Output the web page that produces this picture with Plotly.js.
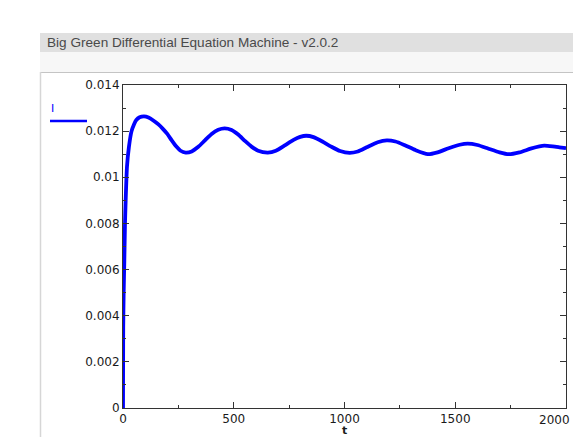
<!DOCTYPE html>
<html>
<head>
<meta charset="utf-8">
<script src="https://cdn.plot.ly/plotly-3.0.1.min.js"></script>
<style>
html,body{margin:0;padding:0;background:#fff;}
#plot{width:573px;height:437px;}
</style>
</head>
<body>
<div id="plot"></div>
<script>
// ---- data ----
var seriesName = "I";
var tValues = [0, 0.5, 1, 3, 6, 9, 12, 18, 27, 38, 50, 60, 75, 95, 115, 140, 160, 180, 200, 220, 241, 260, 283, 310, 340, 370, 400, 430, 459, 490, 520, 550, 580, 610, 654, 690, 730, 770, 800, 827, 860, 900, 940, 980, 1023, 1060, 1100, 1150, 1191, 1230, 1270, 1320, 1376, 1420, 1470, 1520, 1556, 1600, 1650, 1700, 1741, 1790, 1840, 1880, 1902, 1940, 1970, 2000];
var iValues = [0, 0.0020, 0.0035, 0.0050, 0.0064, 0.0080, 0.0090, 0.01046, 0.01133, 0.01198, 0.01230, 0.01248, 0.01260, 0.01264, 0.01259, 0.01244, 0.01229, 0.01210, 0.01188, 0.01160, 0.01133, 0.01115, 0.01107, 0.01112, 0.01132, 0.01160, 0.01188, 0.01206, 0.01212, 0.01205, 0.01185, 0.01158, 0.01133, 0.01115, 0.01107, 0.01115, 0.01138, 0.01162, 0.01175, 0.01180, 0.01174, 0.01155, 0.01133, 0.01114, 0.01106, 0.01112, 0.01130, 0.01152, 0.01160, 0.01155, 0.01140, 0.01118, 0.01100, 0.01108, 0.01126, 0.01141, 0.01146, 0.01140, 0.01124, 0.01108, 0.01100, 0.01108, 0.01124, 0.01134, 0.01137, 0.01134, 0.01130, 0.01126];
var xTickVals = [0, 500, 1000, 1500, 2000];
var xTickText = ["0", "500", "1000", "1500", "2000"];
var yTickVals = [0, 0.002, 0.004, 0.006, 0.008, 0.01, 0.012, 0.014];
var yTickText = ["0", "0.002", "0.004", "0.006", "0.008", "0.01", "0.012", "0.014"];
var windowTitle = "Big Green Differential Equation Machine - v2.0.2";
var xTitle = "t";

// ---- layout geometry (pixels) ----
var W = 573, H = 437;
var L = 123, R = 566, T = 85, B = 408;
function px(x){ return (x - L) / (R - L); }
function py(y){ return (B - y) / (B - T); }
var blue = "#0000ff";
var tickFont = {family: "DejaVu Sans, sans-serif", size: 12, color: "#1a1a1a"};

// the last x tick label sits pulled in against the window edge, so it is drawn as an annotation
var lastX = xTickVals.length - 1;
var shownXText = xTickText.map(function(s, i){ return i === lastX ? "" : s; });

var trace = {
  x: tValues, y: iValues, type: "scatter", mode: "lines", name: seriesName,
  line: {color: blue, width: 3.8, shape: "spline", smoothing: 0.6},
  showlegend: false, hoverinfo: "skip"
};

var layout = {
  width: W, height: H,
  margin: {l: L, r: W - R, t: T, b: H - B, pad: 0},
  paper_bgcolor: "#ffffff", plot_bgcolor: "#ffffff",
  title: {
    text: windowTitle, xref: "container", yref: "container",
    x: 47 / W, xanchor: "left", y: 1 - 42.5 / H, yanchor: "middle",
    font: {family: "Liberation Sans, Arial, sans-serif", size: 13.6, color: "#4a4a4a"}
  },
  xaxis: {
    range: [0, 2000], tickvals: xTickVals, ticktext: shownXText,
    ticks: "inside", ticklen: 6, tickcolor: "#333", tickwidth: 1,
    showline: true, linecolor: "#333", linewidth: 1, mirror: "allticks",
    showgrid: false, zeroline: false, tickfont: tickFont,
    minor: {dtick: 250, ticks: "inside", ticklen: 3, tickcolor: "#333", showgrid: false},
    automargin: false, fixedrange: true
  },
  yaxis: {
    range: [0, 0.014], tickvals: yTickVals, ticktext: yTickText,
    ticks: "inside", ticklen: 6, tickcolor: "#333", tickwidth: 1,
    showline: true, linecolor: "#333", linewidth: 1, mirror: "allticks",
    showgrid: false, zeroline: false, tickfont: tickFont,
    minor: {dtick: 0.001, ticks: "inside", ticklen: 3, tickcolor: "#333", showgrid: false},
    automargin: false, fixedrange: true
  },
  shapes: [
    {type: "rect", xref: "paper", yref: "paper", x0: px(40), x1: px(W + 2), y0: py(33), y1: py(52), fillcolor: "#e0e0e0", line: {width: 0}, layer: "below"},
    {type: "rect", xref: "paper", yref: "paper", x0: px(40), x1: px(W + 2), y0: py(52), y1: py(72), fillcolor: "#f7f7f7", line: {width: 0}, layer: "below"},
    {type: "line", xref: "paper", yref: "paper", x0: px(40), x1: px(W + 2), y0: py(72.5), y1: py(72.5), line: {color: "#c4c4c4", width: 1.2}, layer: "below"},
    {type: "line", xref: "paper", yref: "paper", x0: px(40.5), x1: px(40.5), y0: py(72), y1: py(H + 2), line: {color: "#d6d6d6", width: 1.5}, layer: "below"},
    {type: "line", xref: "paper", yref: "paper", x0: px(50), x1: px(87), y0: py(121), y1: py(121), line: {color: blue, width: 2.5}}
  ],
  annotations: [
    {text: seriesName, xref: "paper", yref: "paper", x: px(52.7), y: py(109), xanchor: "center", yanchor: "middle", showarrow: false,
     font: {family: "DejaVu Sans, sans-serif", size: 11, color: blue}},
    {text: xTickText[lastX], xref: "paper", yref: "paper", x: px(572), y: py(420), xanchor: "right", yanchor: "middle", showarrow: false,
     font: tickFont},
    {text: "<b>" + xTitle + "</b>", xref: "paper", yref: "paper", x: px(344), y: py(439), xanchor: "center", yanchor: "bottom", showarrow: false,
     font: {family: "DejaVu Sans, sans-serif", size: 11, color: "#1a1a1a"}}
  ]
};

Plotly.newPlot("plot", [trace], layout, {displayModeBar: false, staticPlot: true});
</script>
</body>
</html>
